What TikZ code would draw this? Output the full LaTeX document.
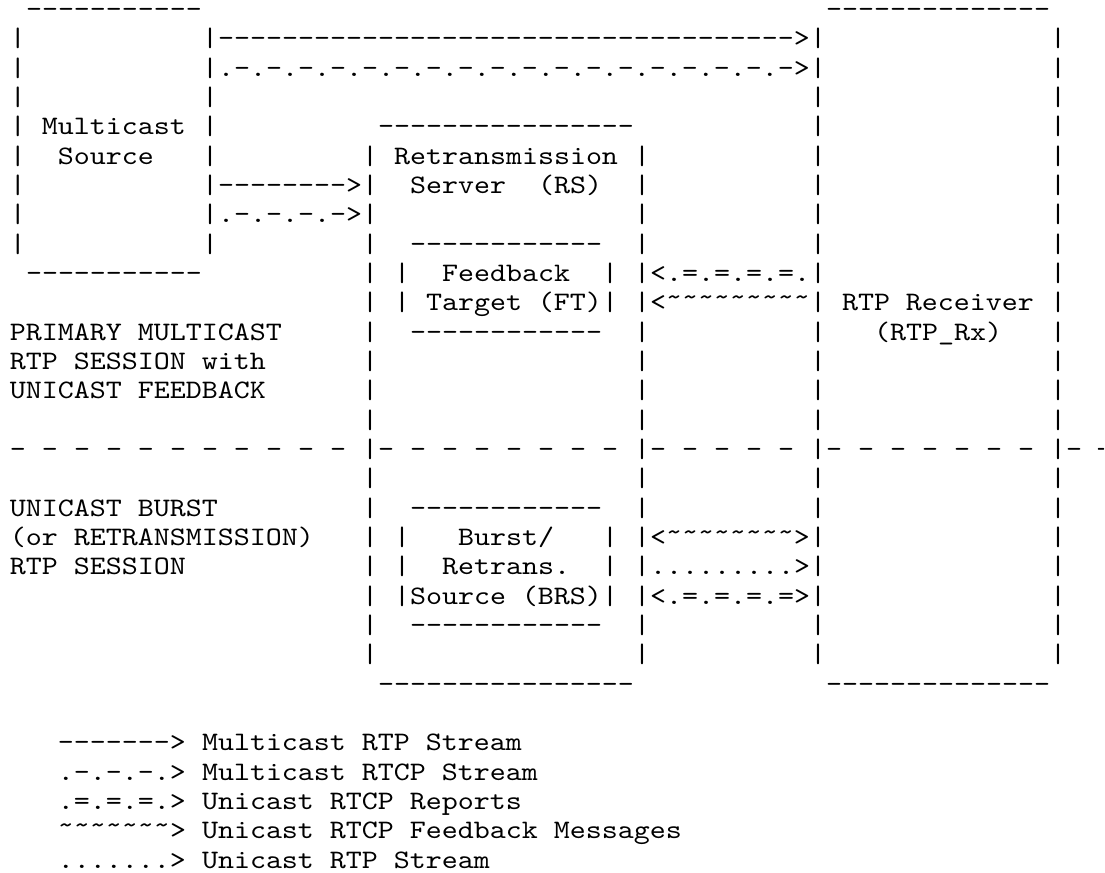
\documentclass[tikz,border=0pt]{standalone}
\usepackage{graphicx}
\usepackage{tikz}

% monospace cell: 6pt wide
\newcommand{\wid}[1]{\scalebox{1.142857}[1]{#1}}
\newcommand{\hy}[1]{\foreach \k in {1,...,#1}{-}}
\newcommand{\tl}[1]{\foreach \k in {1,...,#1}{\smash{\raisebox{0.2em}{\textasciitilde}}}}

\begin{document}
\begin{tikzpicture}[
        x=6pt,
        y=-11pt,
        ascii/.style={
            inner sep=0pt,
            outer sep=0pt,
            anchor=base west,
            font=\ttfamily\fontsize{10}{11}\selectfont
        }
    ]
    \useasboundingbox (-0.625,-0.6) rectangle (68.4375,29.161);

    % Multicast source (left box)
    \node[ascii] (srctop) at (1,0) {\wid{\hy{11}}};
    \foreach \r in {1,...,8} {
        \node[ascii] (srcl\r) at (0,\r) {\wid{|}};
        \node[ascii] (srcr\r) at (12,\r) {\wid{|}};
    }
    \node[ascii] (srcbot) at (1,9) {\wid{\hy{11}}};
    \node[ascii] (src1) at (2,4) {\wid{Multicast}};
    \node[ascii] (src2) at (3,5) {\wid{Source}};

    % Retransmission server (middle box)
    \node[ascii] (rstop) at (23,4) {\wid{\hy{16}}};
    \foreach \r in {5,...,22} {
        \node[ascii] (rsl\r) at (22,\r) {\wid{|}};
        \node[ascii] (rsr\r) at (39,\r) {\wid{|}};
    }
    \node[ascii] (rsbot) at (23,23) {\wid{\hy{16}}};
    \node[ascii] (rs1) at (24,5) {\wid{Retransmission}};
    \node[ascii] (rs2) at (25,6) {\wid{Server}};
    \node[ascii] (rs3) at (33,6) {\wid{(RS)}};

    % Feedback target inside RS
    \node[ascii] (fttop) at (25,8) {\wid{\hy{12}}};
    \foreach \r in {9,10} {
        \node[ascii] (ftl\r) at (24,\r) {\wid{|}};
        \node[ascii] (ftr\r) at (37,\r) {\wid{|}};
    }
    \node[ascii] (ftbot) at (25,11) {\wid{\hy{12}}};
    \node[ascii] (ft1) at (27,9) {\wid{Feedback}};
    \node[ascii] (ft2) at (26,10) {\wid{Target (FT)}};

    % Burst/retransmission source inside RS
    \node[ascii] (brstop) at (25,17) {\wid{\hy{12}}};
    \foreach \r in {18,...,20} {
        \node[ascii] (brsl\r) at (24,\r) {\wid{|}};
        \node[ascii] (brsr\r) at (37,\r) {\wid{|}};
    }
    \node[ascii] (brsbot) at (25,21) {\wid{\hy{12}}};
    \node[ascii] (brs1) at (28,18) {\wid{Burst/}};
    \node[ascii] (brs2) at (27,19) {\wid{Retrans.}};
    \node[ascii] (brs3) at (25,20) {\wid{Source (BRS)}};

    % RTP receiver (right box)
    \node[ascii] (rxtop) at (51,0) {\wid{\hy{14}}};
    \foreach \r in {1,...,22} {
        \node[ascii] (rxl\r) at (50,\r) {\wid{|}};
        \node[ascii] (rxr\r) at (65,\r) {\wid{|}};
    }
    \node[ascii] (rxbot) at (51,23) {\wid{\hy{14}}};
    \node[ascii] (rx1) at (52,10) {\wid{RTP Receiver}};
    \node[ascii] (rx2) at (54,11) {\wid{(RTP\_Rx)}};

    % Session labels
    \node[ascii] (prim1) at (0,11) {\wid{PRIMARY MULTICAST}};
    \node[ascii] (prim2) at (0,12) {\wid{RTP SESSION with}};
    \node[ascii] (prim3) at (0,13) {\wid{UNICAST FEEDBACK}};
    \node[ascii] (uni1) at (0,17) {\wid{UNICAST BURST}};
    \node[ascii] (uni2) at (0,18) {\wid{(or RETRANSMISSION)}};
    \node[ascii] (uni3) at (0,19) {\wid{RTP SESSION}};

    % Session separator
    \foreach \c in {0,2,...,20} \node[ascii] (sepa\c) at (\c,15) {\wid{-}};
    \foreach \c in {23,25,...,37} \node[ascii] (sepb\c) at (\c,15) {\wid{-}};
    \foreach \c in {40,42,...,48} \node[ascii] (sepc\c) at (\c,15) {\wid{-}};
    \foreach \c in {51,53,...,63} \node[ascii] (sepd\c) at (\c,15) {\wid{-}};
    \node[ascii] (sepe66) at (66,15) {\wid{-}};
    \node[ascii, anchor=base east] (sepe68) at (68.4375,15) {\wid{\scalebox{0.5}[1]{-}}};

    % Streams: source -> receiver, source -> RS
    \node[ascii] (mrtp1) at (13,1) {\wid{\hy{36}>}};
    \node[ascii] (mrtcp1) at (13,2) {\wid{.-.-.-.-.-.-.-.-.-.-.-.-.-.-.-.-.-.->}};
    \node[ascii] (mrtp2) at (13,6) {\wid{\hy{8}>}};
    \node[ascii] (mrtcp2) at (13,7) {\wid{.-.-.-.->}};

    % Streams: RS <-> receiver
    \node[ascii] (urep1) at (40,9) {\wid{<.=.=.=.=.}};
    \node[ascii] (ufb1) at (40,10) {\wid{<\tl{9}}};
    \node[ascii] (ufb2) at (40,18) {\wid{<\tl{8}>}};
    \node[ascii] (urtp) at (40,19) {\wid{.........>}};
    \node[ascii] (urep2) at (40,20) {\wid{<.=.=.=.=>}};

    % Legend
    \node[ascii] (key1) at (3,25) {\wid{\hy{7}>}};
    \node[ascii] (key2) at (3,26) {\wid{.-.-.-.>}};
    \node[ascii] (key3) at (3,27) {\wid{.=.=.=.>}};
    \node[ascii] (key4) at (3,28) {\wid{\tl{7}>}};
    \node[ascii] (key5) at (3,29) {\wid{.......>}};
    \node[ascii] (lab1) at (12,25) {\wid{Multicast RTP Stream}};
    \node[ascii] (lab2) at (12,26) {\wid{Multicast RTCP Stream}};
    \node[ascii] (lab3) at (12,27) {\wid{Unicast RTCP Reports}};
    \node[ascii] (lab4) at (12,28) {\wid{Unicast RTCP Feedback Messages}};
    \node[ascii] (lab5) at (12,29) {\wid{Unicast RTP Stream}};

\end{tikzpicture}
\end{document}
